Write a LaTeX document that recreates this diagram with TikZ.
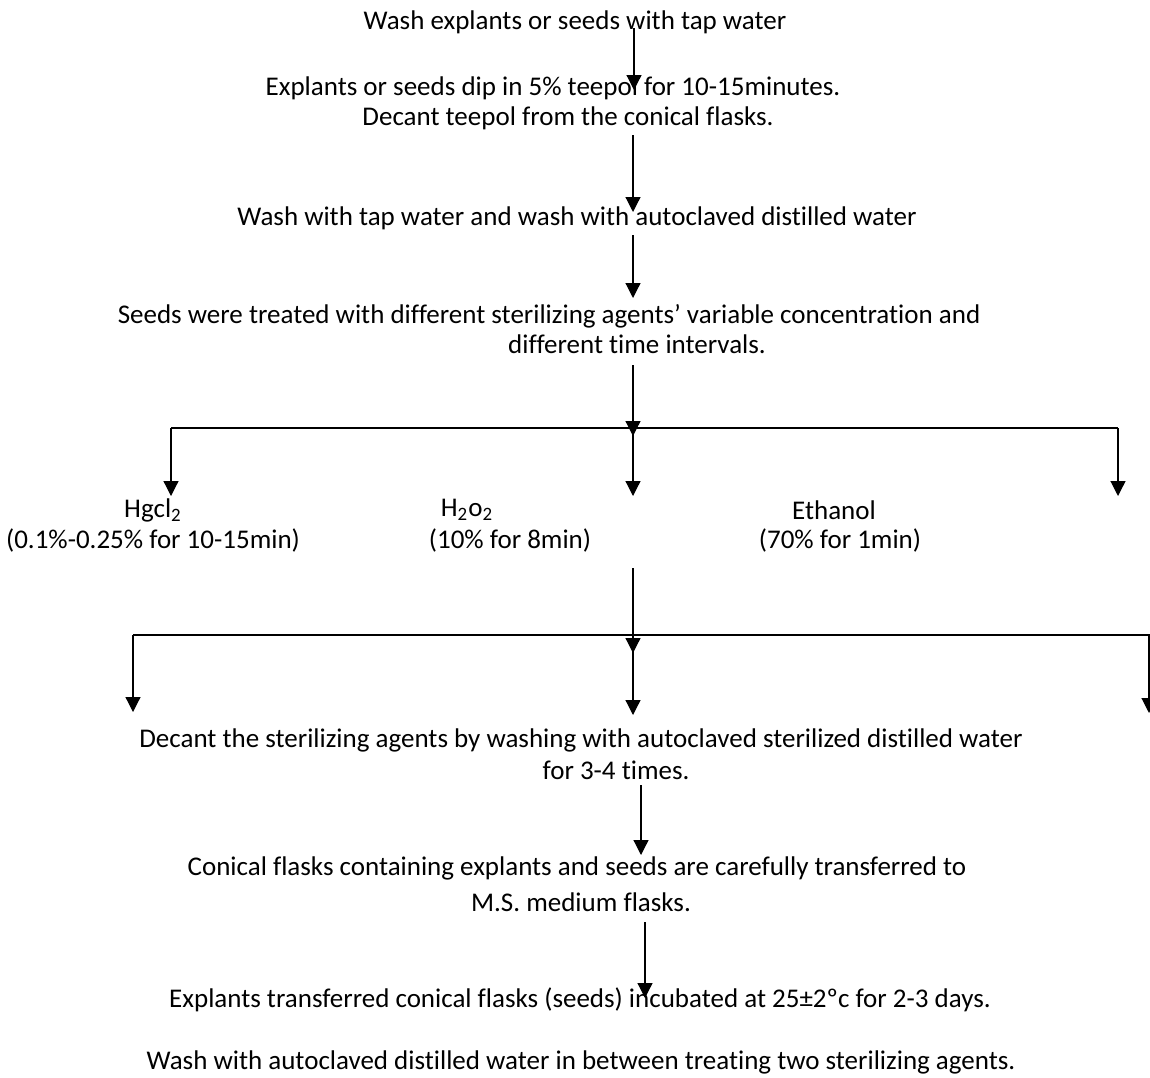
\documentclass[tikz,border=0pt]{standalone}
\usepackage{fontspec}
\setmainfont[Ligatures={NoCommon}]{Carlito}
\usepackage{tikz}
\usetikzlibrary{arrows.meta}
\tikzset{
  tx/.style={inner sep=0pt, font=\fontsize{13.5}{16}\selectfont},
  ar/.style={-{Triangle[length=7.5pt,width=7.5pt]}, draw=black, line width=0.6pt},
  br/.style={draw=black, line width=1.1pt},
}

\begin{document}
\begin{tikzpicture}[x=0.5pt, y=-0.5pt]
  \useasboundingbox (0,0) rectangle (1150,1077);
  % steps
  \node[tx] (wash)   at (575,22)   {Wash explants or seeds with tap water};
  \node[tx] (dip)    at (553,88)   {Explants or seeds dip in 5\% teepol for 10-15minutes.};
  \node[tx] (decant) at (568,118)  {Decant teepol from the conical flasks.};
  \node[tx] (rinse)  at (577,218)  {Wash with tap water and wash with autoclaved distilled water};
  \node[tx] (seeds)  at (549,316)  {Seeds were treated with different sterilizing agents’ variable concentration and};
  \node[tx] (seedsb) at (637,344)  {different time intervals.};
  % agents
  \node[tx] (hg)    at (153,510) {Hgcl\textsubscript{2}};
  \node[tx] (hgc)   at (153,540) {(0.1\%-0.25\% for 10-15min)};
  \node[tx] (hp)    at (467,510) {H\textsubscript{2}o\textsubscript{2}};
  \node[tx] (hpc)   at (510,540) {(10\% for 8min)};
  \node[tx] (eth)   at (834,510) {Ethanol};
  \node[tx] (ethc)  at (840,540) {(70\% for 1min)};
  % after treatment
  \node[tx] (dec)   at (581,740)  {Decant the sterilizing agents by washing with autoclaved sterilized distilled water};
  \node[tx] (decb)  at (616,770)  {for 3-4 times.};
  \node[tx] (con)   at (577,868)  {Conical flasks containing explants and seeds are carefully transferred to};
  \node[tx] (conb)  at (581,902)  {M.S. medium flasks.};
  \node[tx] (inc)   at (580,1000) {Explants transferred conical flasks (seeds) incubated at 25±2ºc for 2-3 days.};
  \node[tx] (note)  at (581,1062) {Wash with autoclaved distilled water in between treating two sterilizing agents.};

  % arrow ends
  \coordinate (a1) at (634,28);  \coordinate (a1e) at (634,90);
  \coordinate (a2) at (633,135); \coordinate (a2e) at (633,212);
  \coordinate (a3) at (633,235); \coordinate (a3e) at (633,298);
  \coordinate (a4) at (633,365); \coordinate (b1) at (633,428);
  \coordinate (b1l) at (171,428); \coordinate (b1r) at (1118,428);
  \coordinate (d1l) at (171,496); \coordinate (d1m) at (633,496); \coordinate (d1r) at (1118,496);
  \coordinate (a5) at (633,568); \coordinate (b2) at (633,635);
  \coordinate (b2l) at (133,635); \coordinate (b2r) at (1149,635);
  \coordinate (d2l) at (133,712); \coordinate (d2m) at (633,715); \coordinate (d2r) at (1149,713);
  \coordinate (a6) at (641,785); \coordinate (a6e) at (641,855);
  \coordinate (a7) at (645,922); \coordinate (a7e) at (645,998);

  \draw[ar] (a1) -- (a1e);
  \draw[ar] (a2) -- (a2e);
  \draw[ar] (a3) -- (a3e);
  \draw[ar] (a4) -- ([yshift=-4]b1);
  \draw[br] (b1l) -- (b1r);
  \draw[ar] (b1l) -- (d1l);
  \draw[ar] (b1) -- (d1m);
  \draw[ar] (b1r) -- (d1r);
  \draw[ar] (a5) -- ([yshift=-9]b2);
  \draw[br] (b2l) -- (1152,635);
  \draw[ar] (b2l) -- (d2l);
  \draw[ar] (b2) -- (d2m);
  \draw[ar] (b2r) -- (d2r);
  \draw[ar] (a6) -- (a6e);
  \draw[ar] (a7) -- (a7e);
\end{tikzpicture}
\end{document}
